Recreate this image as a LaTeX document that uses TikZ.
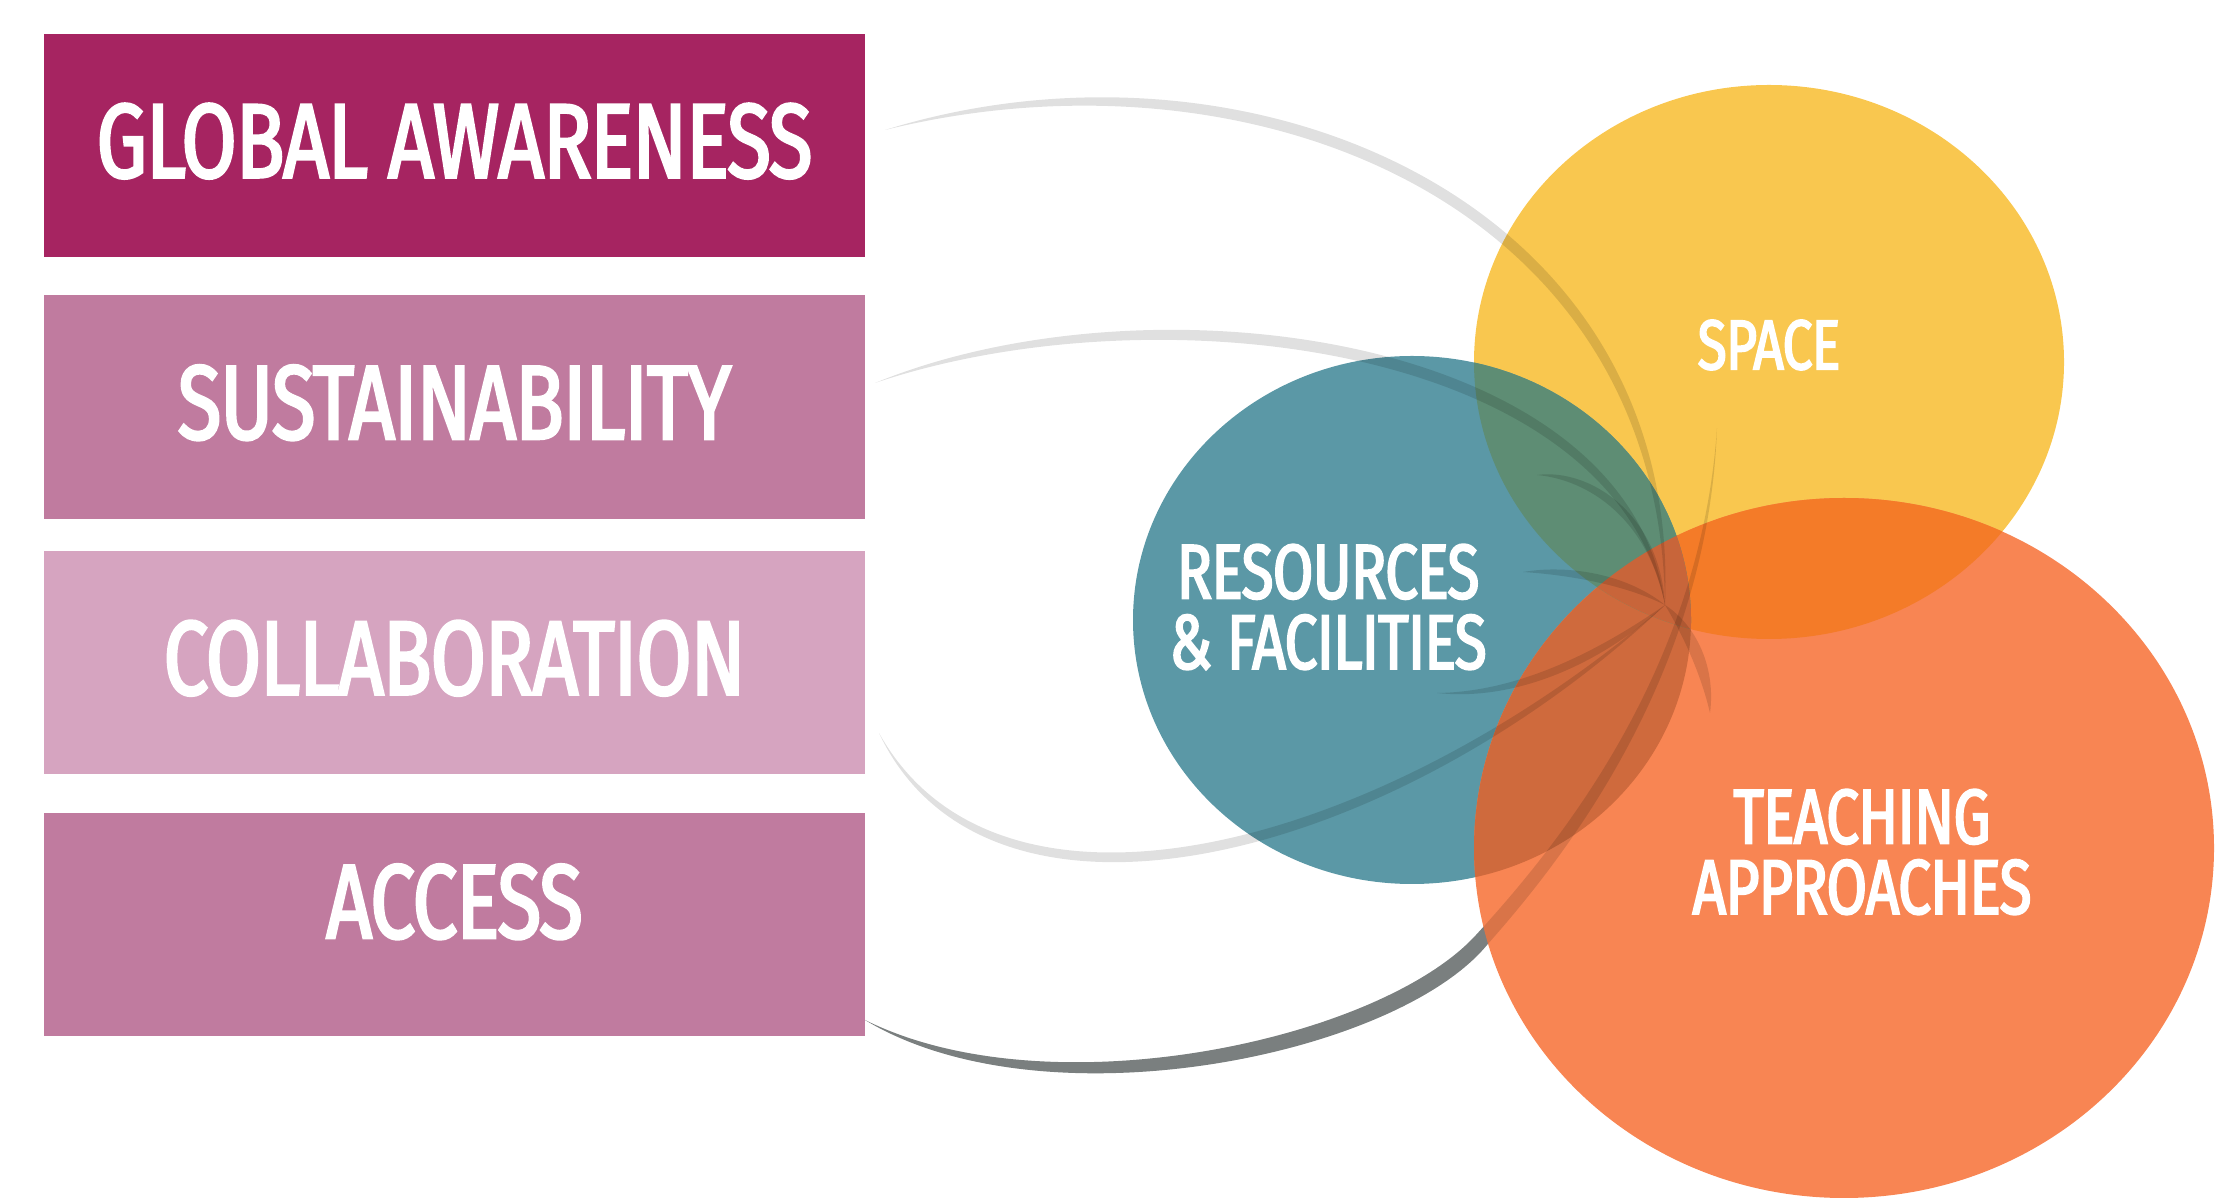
\documentclass[tikz,border=0pt]{standalone}
\usepackage{fontspec}
\setmainfont{Fira Sans}[FakeStretch=0.76, FakeBold=2.5, LetterSpace=-1]
\usetikzlibrary{positioning}

\definecolor{wine}{RGB}{166,36,97}
\definecolor{mauve}{RGB}{192,123,159}
\definecolor{blush}{RGB}{214,164,192}
\definecolor{sea}{RGB}{91,152,166}
\definecolor{sun}{RGB}{249,199,79}
\definecolor{coral}{RGB}{248,133,83}
\definecolor{sunxcoral}{RGB}{244,123,40}
\definecolor{seaxsun}{RGB}{94,141,116}
\definecolor{seaxcoral}{RGB}{207,106,61}
\definecolor{allthree}{RGB}{200,101,58}
\definecolor{slate}{RGB}{139,145,145}

\tikzset{
  topic/.style={fill=#1, minimum width=8.21cm, minimum height=2.23cm, inner sep=0pt,
    text=white, text depth=0.1cm, font=\fontsize{30}{30}\selectfont},
  bubbletext/.style={text=white, align=center, font=\fontsize{22}{20}\selectfont},
  swoosh/.style={fill=black, fill opacity=0.12},
  spacedisc/.style={insert path={(1769,362) ellipse [x radius=295, y radius=277]}},
  resdisc/.style={insert path={(1412,620) ellipse [x radius=279, y radius=264]}},
  teachdisc/.style={insert path={(1844,848) ellipse [x radius=370, y radius=350]}},
}

\begin{document}
\begin{tikzpicture}[x=0.01cm, y=-0.01cm]
\useasboundingbox (0,0) rectangle (2215,1198);

%% the four bars
\node[topic=wine] (global) at (454.5,145.5) {GLOBAL AWARENESS};
\node[topic=mauve, below=0.37cm of global] (sustain) {SUSTAINABILITY};
\node[topic=blush, below=0.31cm of sustain] (collab) {COLLABORATION};
\node[topic=mauve, below=0.37cm of collab, text depth=0.46cm] (access) {ACCESS};

%% where the strands meet, and where they start
\coordinate (hub) at (1665,605);
\coordinate (s1) at (885,130);
\coordinate (s2) at (875,383);
\coordinate (s3) at (879,733);
\coordinate (s4) at (865,1020);
\coordinate (tipa) at (1537,475);
\coordinate (tipb) at (1523,572);
\coordinate (tipc) at (1437,693);
\coordinate (tipd) at (1717,428);
\coordinate (tipe) at (1710,713);

% dark strand, solid part (the discs cover the rest)
\fill[slate] (s4) .. controls (1050,1112) and (1380,1040) .. (1476,935)
   .. controls (1546,858) and (1700,680) .. (tipd)
   .. controls (1708,682) and (1556,867) .. (1487,945)
   .. controls (1395,1056) and (1044,1128) .. (s4) -- cycle;

%% discs
\fill[sun, spacedisc];
\fill[sea, resdisc];
\fill[coral, teachdisc];
\begin{scope}
  \clip[resdisc];
  \fill[seaxcoral, teachdisc];
\end{scope}
\begin{scope}
  \clip[spacedisc];
  \fill[sunxcoral, teachdisc];
  \fill[seaxsun, resdisc];
  \clip[resdisc];
  \fill[allthree, teachdisc];
\end{scope}

%% strands
\fill[swoosh] (s1) .. controls (1250,40) and (1660,200) .. (hub)
   .. controls (1682,198) and (1246,18) .. (s1) -- cycle;
\fill[swoosh] (s2) .. controls (1150,290) and (1610,340) .. (hub)
   .. controls (1630,334) and (1150,270) .. (s2) -- cycle;
\fill[swoosh] (s3) .. controls (1000,950) and (1380,850) .. (hub)
   .. controls (1392,863) and (988,964) .. (s3) -- cycle;
\fill[swoosh] (s4) .. controls (1050,1112) and (1380,1040) .. (1476,935)
   .. controls (1546,858) and (1700,680) .. (tipd)
   .. controls (1708,682) and (1556,867) .. (1487,945)
   .. controls (1395,1056) and (1044,1128) .. (s4) -- cycle;
% short leaves round the hub
\fill[swoosh] (tipa) .. controls (1590,480) and (1648,520) .. (hub)
   .. controls (1660,514) and (1590,468) .. (tipa) -- cycle;
\fill[swoosh] (tipb) .. controls (1570,575) and (1625,585) .. (hub)
   .. controls (1628,575) and (1570,564) .. (tipb) -- cycle;
\fill[swoosh] (tipc) .. controls (1520,692) and (1600,650) .. (hub)
   .. controls (1606,660) and (1520,702) .. (tipc) -- cycle;
\fill[swoosh] (hub) .. controls (1680,630) and (1700,670) .. (tipe)
   .. controls (1716,667) and (1696,625) .. (hub) -- cycle;

%% disc labels
\node[bubbletext, font=\fontsize{20}{20}\selectfont] (spacetext) at (1769,345) {SPACE};
\node[bubbletext] (restext) at (1328,607) {RESOURCES\\\& FACILITIES};
\node[bubbletext] (teachtext) at (1862,852) {TEACHING\\APPROACHES};
\end{tikzpicture}
\end{document}
